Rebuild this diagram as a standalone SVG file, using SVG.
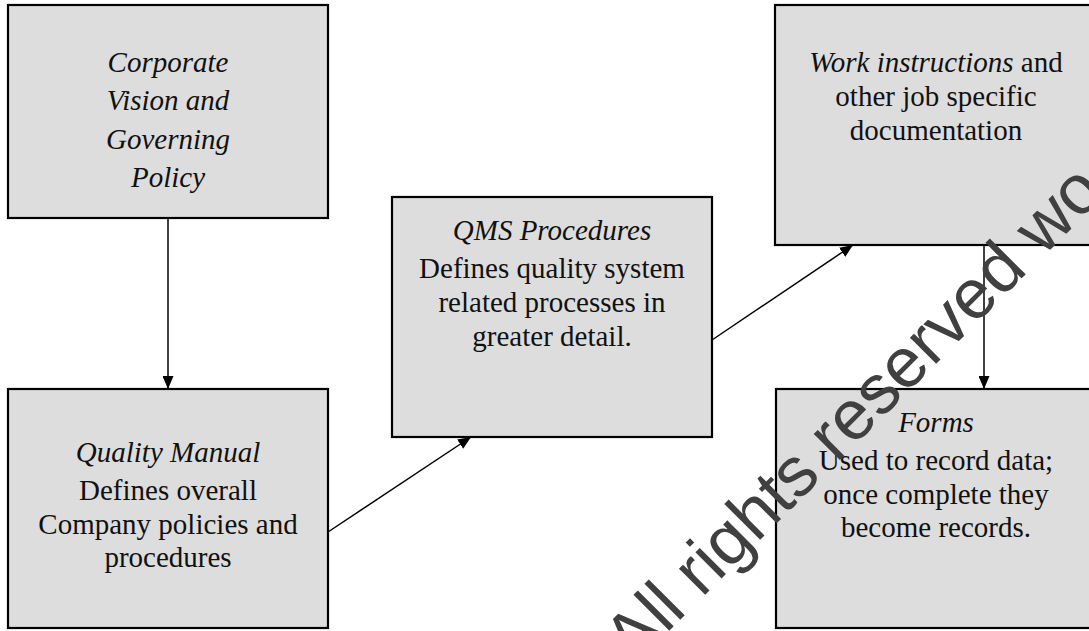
<svg xmlns="http://www.w3.org/2000/svg" width="1089" height="631" viewBox="0 0 1089 631">
<defs>
<style>
.box{fill:#dddddd;stroke:#000;stroke-width:2.2}
.t{font-family:"Liberation Serif","Times New Roman",serif;font-size:29px;fill:#111;text-anchor:middle}
.i{font-style:italic}
.conn{stroke:#000;stroke-width:1.5;fill:none;marker-end:url(#ah)}
.wm{font-family:"Liberation Sans",Arial,sans-serif;font-size:70px;fill:#404040}
</style>
<marker id="ah" markerUnits="userSpaceOnUse" markerWidth="13" markerHeight="11" refX="13" refY="5.5" orient="auto">
<path d="M0,0 L13,5.5 L0,11 Z" fill="#000"/>
</marker>
</defs>
<rect width="1089" height="631" fill="#fff"/>
<g id="corporate">
<rect class="box" x="8" y="5" width="320" height="213"/>
<text class="t i" x="168" y="72">Corporate</text>
<text class="t i" x="168" y="110">Vision and</text>
<text class="t i" x="168" y="149">Governing</text>
<text class="t i" x="168" y="187">Policy</text>
</g>
<g id="quality-manual">
<rect class="box" x="8" y="389" width="320" height="239"/>
<text class="t i" x="168" y="462">Quality Manual</text>
<text class="t" x="168" y="500">Defines overall</text>
<text class="t" x="168" y="534">Company policies and</text>
<text class="t" x="168" y="567">procedures</text>
</g>
<g id="qms-procedures">
<rect class="box" x="392" y="197" width="320" height="240"/>
<text class="t i" x="552" y="240">QMS Procedures</text>
<text class="t" x="552" y="278">Defines quality system</text>
<text class="t" x="552" y="312">related processes in</text>
<text class="t" x="552" y="346">greater detail.</text>
</g>
<g id="work-instructions">
<rect class="box" x="775" y="5" width="320" height="240"/>
<text class="t" x="936" y="72"><tspan class="i">Work instructions</tspan> and</text>
<text class="t" x="936" y="106">other job specific</text>
<text class="t" x="936" y="140">documentation</text>
</g>
<g id="forms">
<rect class="box" x="776" y="389" width="320" height="239"/>
<text class="t i" x="936" y="432">Forms</text>
<text class="t" x="936" y="470">Used to record data;</text>
<text class="t" x="936" y="504">once complete they</text>
<text class="t" x="936" y="537">become records.</text>
</g>
<g id="connectors">
<line class="conn" x1="168" y1="218" x2="168" y2="389"/>
<line class="conn" x1="328" y1="532" x2="471" y2="437"/>
<line class="conn" x1="712" y1="340" x2="853" y2="245"/>
<line class="conn" x1="984" y1="245" x2="984" y2="389"/>
</g>
<text class="wm" x="633" y="667" transform="rotate(-45 633 667)">All rights reserved wo</text>
</svg>
